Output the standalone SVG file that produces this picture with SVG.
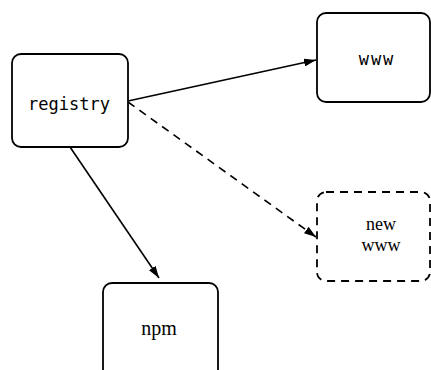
<svg xmlns="http://www.w3.org/2000/svg" width="431" height="370" viewBox="0 0 431 370">
<style>
.box{fill:#fff;stroke:#000;stroke-width:1.8}
.dash{stroke-dasharray:8 6}
.edge{fill:none;stroke:#000;stroke-width:1.6}
.mono{font-family:"DejaVu Sans Mono","Liberation Mono",monospace;fill:#000}
.serif{font-family:"Liberation Serif","Times New Roman",serif;font-size:20px;fill:#000}
</style>
<defs>
<marker id="ah" viewBox="0 0 12 8" refX="12" refY="4" markerWidth="12" markerHeight="8" markerUnits="userSpaceOnUse" orient="auto">
<path d="M0,0 L12,4 L0,8 z" fill="#000"/>
</marker>
</defs>
<rect width="431" height="370" fill="#fff"/>
<g id="connectors">
<line class="edge" x1="128" y1="101" x2="316" y2="60" marker-end="url(#ah)"/>
<line class="edge dash" x1="128" y1="102" x2="316" y2="237" marker-end="url(#ah)"/>
<line class="edge" x1="70" y1="147" x2="159" y2="278" marker-end="url(#ah)"/>
</g>
<g id="registry">
<rect class="box" x="12" y="54" width="116" height="93" rx="9"/>
<text class="mono" x="69" y="110" font-size="18" text-anchor="middle" textLength="82" lengthAdjust="spacingAndGlyphs">registry</text>
</g>
<g id="www">
<rect class="box" x="317" y="13" width="113" height="89" rx="9"/>
<text class="mono" x="377" y="65" font-size="17" text-anchor="middle" letter-spacing="2">www</text>
</g>
<g id="newwww">
<rect class="box dash" x="317" y="192" width="113" height="89" rx="9"/>
<text class="serif" x="381" y="230" font-size="18" text-anchor="middle" style="font-size:18px">new</text>
<text class="serif" x="381" y="251" text-anchor="middle" style="font-size:18px">www</text>
</g>
<g id="npm">
<rect class="box" x="103" y="283" width="115" height="100" rx="9"/>
<text class="serif" x="159" y="335" text-anchor="middle">npm</text>
</g>
</svg>
